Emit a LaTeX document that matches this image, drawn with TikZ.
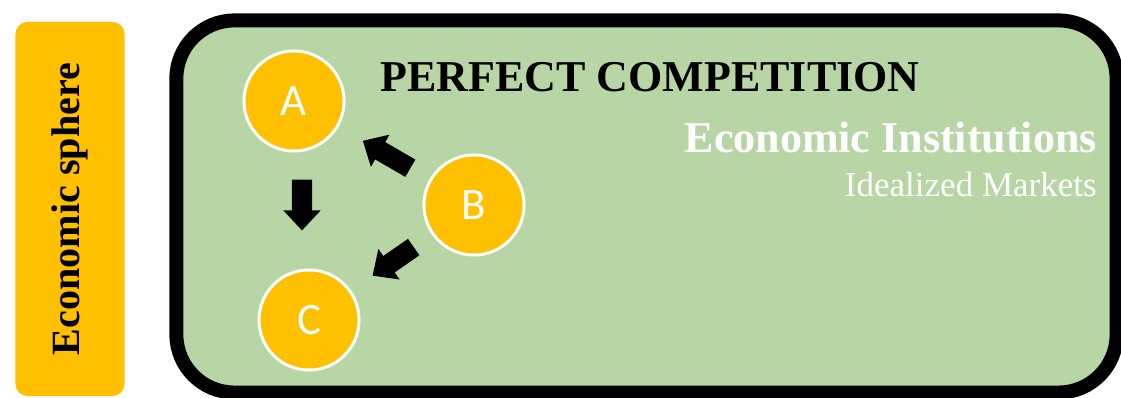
\documentclass[tikz,border=0pt]{standalone}
\usepackage{fontspec}
\setmainfont{Liberation Serif}
\newfontfamily\letterfont{Carlito}
\usetikzlibrary{arrows.meta,positioning}
\definecolor{sphereyellow}{HTML}{FFC000}
\definecolor{marketgreen}{HTML}{B8D6A5}

\begin{document}
\begin{tikzpicture}[
    x=0.025cm, y=-0.025cm,
    sphere/.style={rectangle, fill=sphereyellow, rounded corners=0.3cm,
                   minimum width=9.35cm, minimum height=2.725cm, rotate=90,
                   font=\fontsize{28.5}{32}\selectfont\bfseries},
    market/.style={rectangle, draw=black, fill=marketgreen, line width=0.35cm,
                   rounded corners=1.45cm, minimum width=23.5cm, minimum height=9.3cm},
    agent/.style={circle, fill=sphereyellow, draw=white, line width=0.075cm,
                  minimum size=2.5cm, inner sep=0pt, text=white,
                  font=\letterfont\fontsize{32}{36}\selectfont},
    blockarrow/.style={-{Triangle[width=0.9cm, length=0.5cm]}, line width=0.5cm,
                       shorten <=0.55cm, shorten >=0.7cm},
    title/.style={font=\fontsize{31.3}{36}\selectfont\bfseries, inner sep=0pt},
    sub/.style={text=white, inner sep=0pt}
]
\useasboundingbox (0,0) rectangle (1121,398);

%% -- Left label ------------------------------------------------------
\node[sphere] (sphere) at (70,209) {Economic sphere};

%% -- Market frame ----------------------------------------------------
\node[market] (frame) at (646.5,206.5) {};

%% -- Agents ----------------------------------------------------------
\node[agent] (A) at (294,101) {A};
\node[agent] (B) at (474,205) {B};
\node[agent] (C) at (309,320) {C};

%% -- Arrows ----------------------------------------------------------
\draw[blockarrow, shorten <=0.675cm, shorten >=0.95cm]
    ([xshift=0.2cm]A.south) -- ([xshift=-0.175cm]C.north);
\draw[blockarrow] (B) -- (A);
\draw[blockarrow, shorten >=0.65cm] (B) -- (C);

%% -- Texts -----------------------------------------------------------
\node[title, anchor=base] (comp) at (650,92) {PERFECT COMPETITION};
\node[sub, anchor=base east, font=\fontsize{31.3}{36}\selectfont\bfseries]
    (inst) at (1097,153) {Economic Institutions};
\node[sub, anchor=base east, font=\fontsize{24.9}{30}\selectfont]
    (ideal) at (1097,197) {Idealized Markets};

\end{tikzpicture}
\end{document}
